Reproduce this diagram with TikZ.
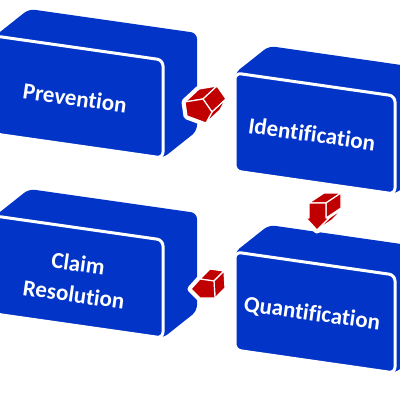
\documentclass[tikz,border=0pt]{standalone}
\usepackage{fontspec}
\setmainfont{Carlito}[Ligatures={NoCommon}]
\usetikzlibrary{calc}
\definecolor{myblue}{RGB}{2,52,200}
\definecolor{myred}{RGB}{192,0,0}
\tikzset{
  boxback/.style={fill=myblue, rounded corners=6pt},
  boxfront/.style={fill=myblue, draw=white, line width=3pt, rounded corners=6pt},
  lbl/.style={text=white, font=\bfseries\fontsize{23}{31}\selectfont, align=center, rotate=-8, inner sep=0pt},
  arrowhalo/.style={fill=white, draw=white, line width=7pt, line join=round},
  arrowface/.style={fill=myred, draw=white, line width=1.2pt, line join=round}
}
\newcommand\isobox[4]{% x, y, width, rise
  \path[boxback] (#1,#2) -- ++(34,-27) -- ++(#3,#4) -- ++(0,98) -- ++(-34,27) -- ++(-#3,-#4) -- cycle;
  \path[boxfront] (#1,#2) -- ++(#3,#4) -- ++(0,98) -- ++(-#3,-#4) -- cycle;
}
\begin{document}
\begin{tikzpicture}[x=1pt,y=-1pt]
\useasboundingbox (0,0) rectangle (400,400);
\clip (0,0) rectangle (400,400);
% boxes
\isobox{-5}{36}{168}{24}
\isobox{235}{73}{160}{23}
\isobox{-5}{216}{168}{24}
\isobox{235}{252}{160}{23}
\node[lbl] (prev) at (75,98) {Prevention};
\node[lbl] (ident) at (312,134) {Identification};
\node[lbl] (claim) at (76,279) {Claim\\Resolution};
\node[lbl] (quant) at (312,314) {Quantification};
% arrow 1 (right)
\coordinate (a1A) at (185,102); \coordinate (a1B) at (203,99); \coordinate (a1C) at (212,112);
\coordinate (a1D) at (206,123); \coordinate (a1E) at (187,116);
\path[arrowhalo] (a1A) -- ($(a1A)+(14,-13)$) -- ($(a1B)+(14,-13)$) -- ($(a1C)+(14,-13)$) -- ($(a1D)+(14,-13)$) -- (a1D) -- (a1E) -- cycle;
\path[arrowface] (a1A) -- (a1B) -- ($(a1B)+(14,-13)$) -- ($(a1A)+(14,-13)$) -- cycle;
\path[arrowface] (a1B) -- (a1C) -- ($(a1C)+(14,-13)$) -- ($(a1B)+(14,-13)$) -- cycle;
\path[arrowface] (a1C) -- (a1D) -- ($(a1D)+(14,-13)$) -- ($(a1C)+(14,-13)$) -- cycle;
\path[arrowface] (a1A) -- (a1B) -- (a1C) -- (a1D) -- (a1E) -- cycle;
% arrow 2 (down)
\coordinate (a2A) at (309,203); \coordinate (a2B) at (326,203); \coordinate (a2C) at (326,218);
\coordinate (a2D) at (329,218); \coordinate (a2T) at (317,230); \coordinate (a2F) at (306,218);
\coordinate (a2G) at (309,218);
\path[arrowhalo] (a2A) -- ($(a2A)+(15,-10)$) -- ($(a2B)+(15,-10)$) -- ($(a2D)+(15,-10)$) -- (a2T) -- (a2F) -- (a2G) -- cycle;
\path[arrowface] (a2A) -- (a2B) -- ($(a2B)+(15,-10)$) -- ($(a2A)+(15,-10)$) -- cycle;
\path[arrowface] (a2B) -- (a2C) -- ($(a2C)+(15,-10)$) -- ($(a2B)+(15,-10)$) -- cycle;
\path[arrowface] (a2D) -- (a2T) -- ($(a2T)+(15,-10)$) -- ($(a2D)+(15,-10)$) -- cycle;
\path[arrowface] (a2A) -- (a2B) -- (a2C) -- (a2D) -- (a2T) -- (a2F) -- (a2G) -- cycle;
% arrow 3 (left)
\coordinate (a3T) at (191,289); \coordinate (a3S) at (200,279); \coordinate (a3A) at (214,281);
\coordinate (a3B) at (215,298); \coordinate (a3R) at (200,298);
\path[arrowhalo] (a3T) -- (a3S) -- ($(a3S)+(10,-10)$) -- ($(a3A)+(10,-10)$) -- ($(a3B)+(10,-10)$) -- (a3B) -- (a3R) -- cycle;
\path[arrowface] (a3S) -- (a3A) -- ($(a3A)+(10,-10)$) -- ($(a3S)+(10,-10)$) -- cycle;
\path[arrowface] (a3A) -- (a3B) -- ($(a3B)+(10,-10)$) -- ($(a3A)+(10,-10)$) -- cycle;
\path[arrowface] (a3T) -- (a3S) -- (a3A) -- (a3B) -- (a3R) -- cycle;
\end{tikzpicture}
\end{document}
